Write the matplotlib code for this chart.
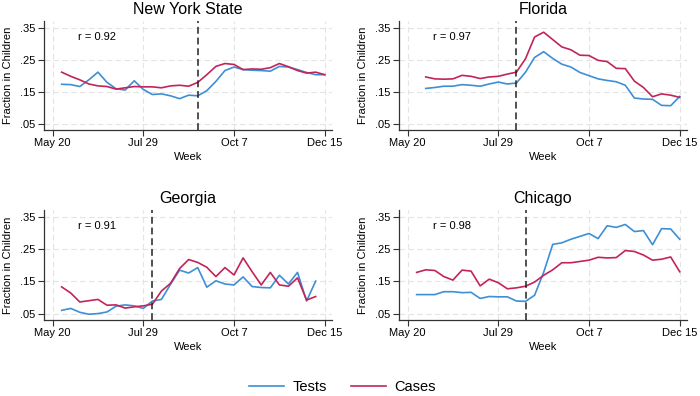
import matplotlib
matplotlib.use('Agg')
import matplotlib.pyplot as plt
from matplotlib.lines import Line2D

plt.rcParams['font.family'] = ['Liberation Sans', 'DejaVu Sans']

'''
weekly fraction of tests / cases in children, week 0 = May 20
'''
weeks = list(range(1, 31))
xtick_pos = [0, 10, 20, 30]
xtick_labels = ['May 20', 'Jul 29', 'Oct 7', 'Dec 15']
ytick_pos = [0.05, 0.15, 0.25, 0.35]
ytick_labels = ['.05', '.15', '.25', '.35']

ny_tests = [0.173, 0.172, 0.166, 0.187, 0.211, 0.179, 0.159, 0.155, 0.184, 0.157,
            0.141, 0.143, 0.137, 0.128, 0.139, 0.137, 0.153, 0.182, 0.216, 0.227,
            0.219, 0.217, 0.216, 0.214, 0.229, 0.227, 0.219, 0.210, 0.203, 0.203]
ny_cases = [0.211, 0.198, 0.187, 0.174, 0.168, 0.166, 0.158, 0.162, 0.166, 0.165,
            0.165, 0.162, 0.168, 0.170, 0.167, 0.179, 0.203, 0.229, 0.238, 0.235,
            0.219, 0.221, 0.220, 0.225, 0.238, 0.228, 0.216, 0.208, 0.211, 0.203]

fl_weeks = list(range(2, 31))
fl_tests = [0.160, 0.163, 0.167, 0.167, 0.172, 0.170, 0.167, 0.174, 0.180, 0.174,
            0.177, 0.211, 0.257, 0.275, 0.254, 0.236, 0.227, 0.210, 0.200, 0.190,
            0.185, 0.181, 0.170, 0.130, 0.127, 0.126, 0.107, 0.106, 0.135]
fl_cases = [0.196, 0.190, 0.189, 0.190, 0.201, 0.198, 0.191, 0.196, 0.198, 0.205,
            0.211, 0.253, 0.321, 0.336, 0.313, 0.290, 0.281, 0.264, 0.263, 0.248,
            0.244, 0.223, 0.222, 0.183, 0.163, 0.134, 0.143, 0.139, 0.132]

ga_weeks = list(range(1, 30))
ga_tests = [0.060, 0.066, 0.054, 0.048, 0.050, 0.055, 0.073, 0.077, 0.074, 0.066,
            0.089, 0.094, 0.141, 0.185, 0.176, 0.193, 0.132, 0.152, 0.142, 0.139,
            0.164, 0.134, 0.131, 0.130, 0.169, 0.142, 0.178, 0.089, 0.151]
ga_cases = [0.133, 0.114, 0.086, 0.090, 0.094, 0.076, 0.077, 0.067, 0.071, 0.074,
            0.079, 0.120, 0.144, 0.190, 0.218, 0.209, 0.194, 0.165, 0.193, 0.170,
            0.223, 0.180, 0.139, 0.178, 0.139, 0.135, 0.161, 0.092, 0.103]

chi_tests = [0.109, 0.109, 0.109, 0.118, 0.118, 0.115, 0.116, 0.097, 0.103, 0.102,
             0.102, 0.089, 0.088, 0.107, 0.178, 0.265, 0.270, 0.281, 0.290, 0.299,
             0.283, 0.323, 0.318, 0.327, 0.305, 0.308, 0.264, 0.314, 0.313, 0.281]
chi_cases = [0.178, 0.186, 0.184, 0.165, 0.154, 0.185, 0.182, 0.136, 0.157, 0.146,
             0.127, 0.130, 0.135, 0.148, 0.169, 0.186, 0.208, 0.208, 0.212, 0.216,
             0.225, 0.223, 0.224, 0.246, 0.243, 0.232, 0.216, 0.219, 0.226, 0.180]

panels = [
    ('New York State', weeks, ny_tests, ny_cases, 16, 'r = 0.92'),
    ('Florida', fl_weeks, fl_tests, fl_cases, 12, 'r = 0.97'),
    ('Georgia', ga_weeks, ga_tests, ga_cases, 11, 'r = 0.91'),
    ('Chicago', weeks, chi_tests, chi_cases, 13, 'r = 0.98'),
]

blue = '#3d8fd6'
red = '#c2245a'

fig = plt.figure(figsize=(7.0, 3.96), dpi=100)
boxes = [
    [43.5 / 700, 1 - 130 / 396, 288.5 / 700, 109.3 / 396],
    [398.5 / 700, 1 - 130 / 396, 288.5 / 700, 109.3 / 396],
    [43.5 / 700, 1 - 320 / 396, 288.5 / 700, 110 / 396],
    [398.5 / 700, 1 - 320 / 396, 288.5 / 700, 110 / 396],
]

for box, (title, wk, tests, cases, cut, rtxt) in zip(boxes, panels):
    ax = fig.add_axes(box)
    ax.set_xlim(-1.0, 30.8)
    ax.set_ylim(0.03, 0.372)
    for x in xtick_pos:
        ax.axvline(x, color='#e4e4e4', lw=0.8, ls=(0, (5, 3)), zorder=0)
    for y in ytick_pos:
        ax.axhline(y, color='#e4e4e4', lw=0.8, ls=(0, (5, 3)), zorder=0)
    ax.plot(wk, tests, color=blue, lw=1.2, zorder=3)
    ax.plot(wk, cases, color=red, lw=1.2, zorder=3)
    ax.axvline(cut, color='#222222', lw=1.1, ls=(0, (4.5, 2.5)), zorder=4)
    ax.text(2.8, 0.322, rtxt, fontsize=8, va='center', ha='left')
    ax.set_xticks(xtick_pos)
    ax.set_xticklabels(xtick_labels)
    ax.set_yticks(ytick_pos)
    ax.set_yticklabels(ytick_labels)
    ax.tick_params(labelsize=8, length=4, width=0.8, color='#333333', pad=2)
    for s in ['top', 'right']:
        ax.spines[s].set_visible(False)
    for s in ['left', 'bottom']:
        ax.spines[s].set_color('#333333')
        ax.spines[s].set_linewidth(0.9)
    ax.set_xlabel('Week', fontsize=8)
    ax.set_ylabel('Fraction in Children', fontsize=8)
    ax.xaxis.set_label_coords(0.5, -0.2)
    ax.yaxis.set_label_coords(-0.107, 0.5)
    ax.set_title(title, fontsize=11.5, pad=5)

handles = [Line2D([], [], color=blue, lw=1.2), Line2D([], [], color=red, lw=1.2)]
fig.legend(handles, ['Tests', 'Cases'], loc='center', ncol=2, frameon=False,
           bbox_to_anchor=(342.5 / 700, 1 - 387 / 396), fontsize=10.5,
           handlelength=2.4, handletextpad=0.6, columnspacing=1.6)

fig.savefig('out.png', dpi=100)
